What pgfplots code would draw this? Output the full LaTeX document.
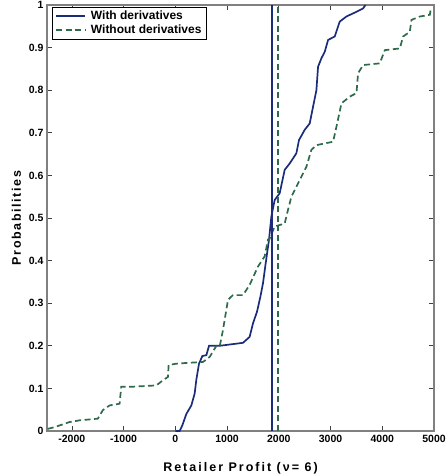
\documentclass[border=0pt]{standalone}
\usepackage{fontspec}
\setmainfont{Liberation Sans}
\usepackage{pgfplots}
\pgfplotsset{compat=1.18}
\definecolor{navyline}{HTML}{1B2C7A}
\definecolor{greenline}{HTML}{2E6B4A}
\definecolor{axgray}{HTML}{808080}
\begin{document}
\begin{tikzpicture}
\begin{axis}[
  scale only axis,
  width=387pt, height=426pt,
  xmin=-2480, xmax=5000, ymin=0, ymax=1,
  xtick={-2000,-1000,0,1000,2000,3000,4000,5000},
  ytick={0,0.1,0.2,0.3,0.4,0.5,0.6,0.7,0.8,0.9,1},
  yticklabels={0,0.1,0.2,0.3,0.4,0.5,0.6,0.7,0.8,0.9,1},
  xticklabels={-2000,-1000,0,1000,2000,3000,4000,5000},
  tick align=inside,
  tick style={black!75, line width=0.6pt},
  major tick length=5pt,
  axis line style={axgray, line width=1.3pt},
  tick label style={font=\bfseries\fontsize{10.5}{12}\selectfont},
  xticklabel style={yshift=-1pt},
  xlabel={\addfontfeature{LetterSpace=16}Retailer Profit (ν= 6)},
  ylabel={\addfontfeature{LetterSpace=13}Probabilities},
  xlabel style={font=\bfseries\fontsize{12.5}{14}\selectfont, at={(axis description cs:0.5,-0.0869)}, anchor=center},
  ylabel style={font=\bfseries\fontsize{12.5}{14}\selectfont, at={(axis description cs:-0.0788,0.5)}, anchor=center},
  legend style={at={(axis description cs:0.013,0.995)}, anchor=north west, draw=black,
    font=\bfseries\fontsize{12}{14}\selectfont, inner xsep=3pt, inner ysep=1.5pt, row sep=0pt,
    /tikz/every odd column/.append style={column sep=3pt}},
  legend image code/.code={\draw[#1] (0pt,0pt) -- (29pt,0pt);},
  legend cell align=left,
  clip=true,
]
\addlegendimage{navyline, line width=1.7pt}
\addlegendentry{With derivatives}
\addlegendimage{greenline, line width=1.7pt, dash pattern=on 6pt off 3.5pt}
\addlegendentry{Without derivatives}
\addplot[navyline, line width=1.7pt, forget plot] coordinates {
(0,0)(84,0)(135,0.013)(213,0.04)(310,0.06)(374,0.088)(406,0.12)(458,0.158)(523,0.176)(600,0.178)(652,0.2)(858,0.2)
(1308,0.207)(1437,0.221)(1502,0.253)(1579,0.28)(1644,0.315)(1695,0.347)(1747,0.394)(1811,0.449)
(1856,0.503)(1920,0.542)(2017,0.558)(2114,0.613)(2211,0.628)(2340,0.652)(2391,0.683)(2501,0.707)(2598,0.722)(2662,0.761)(2727,0.8)(2759,0.855)(2824,0.875)(2888,0.89)(2953,0.918)(3081,0.926)(3178,0.961)(3307,0.973)(3501,0.984)(3630,0.992)(3675,1)};
\addplot[greenline, line width=1.7pt, dash pattern=on 6pt off 3.5pt, forget plot] coordinates {
(-2465,0.005)(-2335,0.009)(-2045,0.021)(-1852,0.025)(-1497,0.029)(-1400,0.049)(-1271,0.06)(-1077,0.064)(-1045,0.104)(-819,0.104)(-368,0.107)(-239,0.119)(-142,0.127)(-129,0.155)(19,0.158)(245,0.16)(535,0.162)(665,0.174)(794,0.2)
(857,0.198)(921,0.237)(1018,0.308)(1114,0.319)(1308,0.319)(1437,0.343)(1598,0.386)(1727,0.41)(1791,0.449)
(1811,0.448)(1920,0.48)(2114,0.487)(2178,0.519)(2243,0.55)(2404,0.589)(2533,0.62)(2630,0.66)(2727,0.671)(3049,0.679)(3114,0.714)(3211,0.769)(3372,0.785)(3501,0.793)(3533,0.84)(3630,0.859)(3952,0.863)(4049,0.894)(4339,0.898)(4403,0.926)(4532,0.937)(4565,0.965)(4726,0.973)(4919,0.977)(4939,0.992)};
\addplot[navyline, line width=1.7pt, forget plot] coordinates {(1870,0)(1870,1)};
\addplot[greenline, line width=1.7pt, dash pattern=on 6pt off 3.5pt, forget plot] coordinates {(1985,0)(1985,1)};
\end{axis}
\pgfresetboundingbox
\path ([shift={(-47pt,-44pt)}]current axis.south west) rectangle ([shift={(12pt,5pt)}]current axis.north east);
\end{tikzpicture}
\end{document}
